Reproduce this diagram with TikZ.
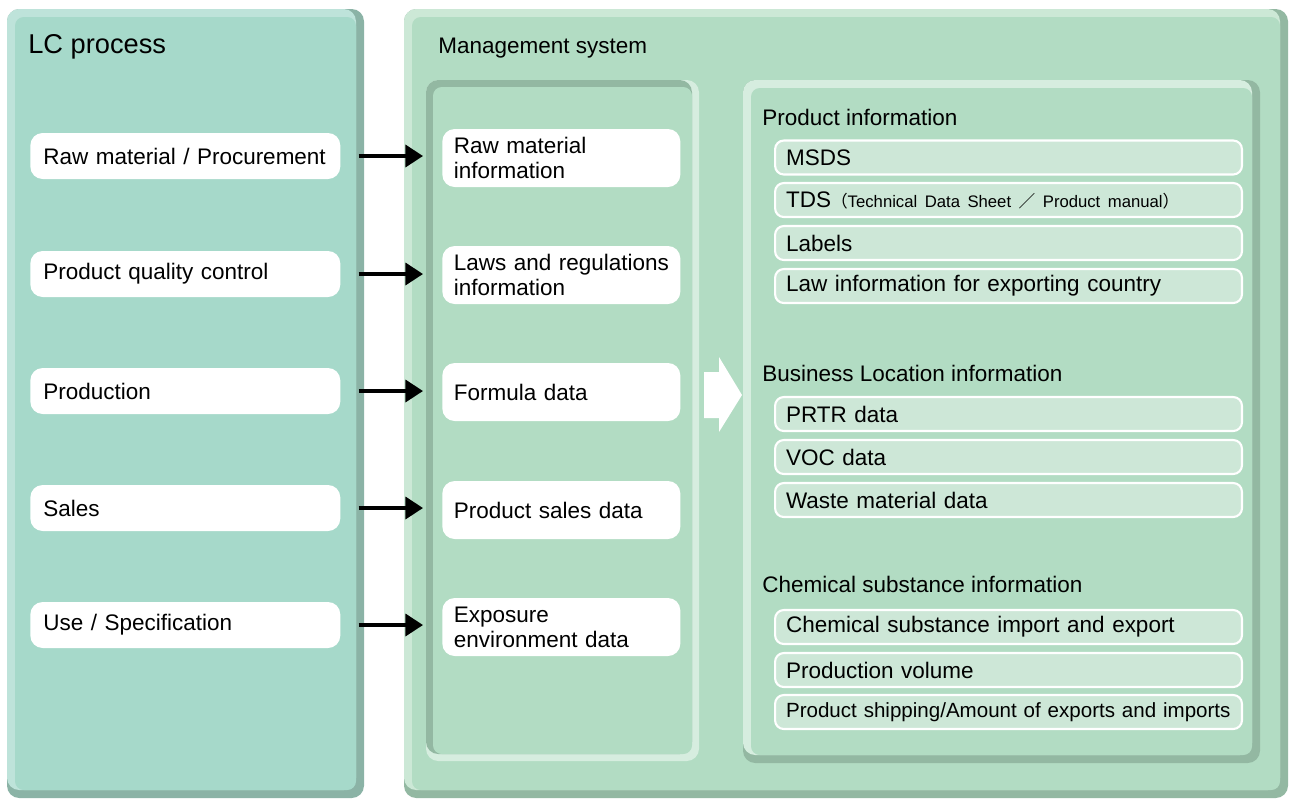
\documentclass[tikz,border=0pt]{standalone}
\usepackage{fontspec}
\setmainfont{Liberation Sans}
\newfontfamily\cjk{Noto Sans CJK JP}
\usepackage{tikz}
\usetikzlibrary{arrows.meta, positioning, calc}
\definecolor{lcmain}{RGB}{166,217,202}
\definecolor{lclight}{RGB}{190,227,218}
\definecolor{lcdark}{RGB}{139,179,166}
\definecolor{msmain}{RGB}{178,220,195}
\definecolor{mslight}{RGB}{204,232,214}
\definecolor{msdark}{RGB}{147,184,162}
\definecolor{inlight}{RGB}{214,237,223}
\definecolor{itemgreen}{RGB}{205,231,215}
\newcommand{\itemfont}{\fontsize{12.8}{14.2}\selectfont}
\tikzset{>=stealth,
	lcbox/.style={fill=white, rounded corners=7pt, anchor=west, minimum height=0.92cm, text width=5.68cm, inner xsep=0.26cm, inner ysep=0pt, align=left, font=\itemfont},
	databox/.style={fill=white, rounded corners=7pt, anchor=west, minimum height=1.16cm, text width=4.3cm, inner xsep=0.23cm, inner ysep=0pt, align=left, font=\itemfont},
	infobox/.style={fill=itemgreen, draw=white, line width=1.2pt, rounded corners=5pt, anchor=west, minimum height=0.68cm, text width=8.9cm, inner xsep=0.22cm, inner ysep=0pt, align=left, font=\itemfont},
	infohead/.style={anchor=west, inner sep=0pt, font=\itemfont},
	flow/.style={line width=2pt, -{Triangle[length=10pt,width=12.5pt]}, shorten <=0.36cm, shorten >=0.38cm}}

\begin{document}
\begin{tikzpicture}[x=0.02cm, y=-0.02cm]
	\useasboundingbox (0,0) rectangle (1293,799);

	% LC process panel
	\fill [lcdark, rounded corners=7pt] (7,9) rectangle (364,798);
	\fill [lclight, rounded corners=7pt] (7,9) rectangle (356,790);
	\fill [lcmain, rounded corners=5pt] (15,17) rectangle (356,790);
	\node [anchor=west, inner sep=0pt, font=\fontsize{15.5}{18}\selectfont] (lctitle) at (28,47) {LC process};

	% management system panel
	\fill [msdark, rounded corners=7pt] (404,9) rectangle (1288,798);
	\fill [mslight, rounded corners=7pt] (404,9) rectangle (1280,790);
	\fill [msmain, rounded corners=5pt] (412,17) rectangle (1280,790);
	\node [anchor=west, inner sep=0pt, font=\fontsize{12.8}{14}\selectfont] (mstitle) at (438,48) {Management system};

	% inner panels
	\fill [inlight, rounded corners=7pt] (426,80) rectangle (699,761);
	\fill [msdark, rounded corners=7pt] (426,80) rectangle (692,754);
	\fill [msmain, rounded corners=5pt] (433,87) rectangle (692,754);

	\fill [msdark, rounded corners=7pt] (743,80) rectangle (1260,763);
	\fill [inlight, rounded corners=7pt] (743,80) rectangle (1252,755);
	\fill [msmain, rounded corners=5pt] (751,88) rectangle (1252,755);

	% LC steps
	\node [lcbox] (lcraw) at (30,156) {Raw material / Procurement};
	\node [lcbox] (lcqual) at (30,274) {Product quality control};
	\node [lcbox] (lcprod) at (30,391) {Production};
	\node [lcbox] (lcsales) at (30,508) {Sales};
	\node [lcbox] (lcuse) at (30,625) {Use / Specification};

	% data held by the system
	\node [databox] (msraw) at (442,158) {Raw material\\information};
	\node [databox] (mslaw) at (442,275) {\mbox{Laws and regulations}\\information};
	\node [databox] (msform) at (442,392) {Formula data};
	\node [databox] (mssales) at (442,510) {Product sales data};
	\node [databox] (msexp) at (442,627) {Exposure\\environment data};

	\draw [flow] (lcraw.east) -- (lcraw.east -| msraw.west);
	\draw [flow] (lcqual.east) -- (lcqual.east -| mslaw.west);
	\draw [flow] (lcprod.east) -- (lcprod.east -| msform.west);
	\draw [flow] (lcsales.east) -- (lcsales.east -| mssales.west);
	\draw [flow] (lcuse.east) -- (lcuse.east -| msexp.west);

	% big arrow
	\fill [white] (704,372) -- (719,372) -- (719,357) -- (742,395) -- (719,432) -- (719,418) -- (704,418) -- cycle;

	% product information
	\node [infohead] (prodhead) at (762,117) {Product information};
	\node [infobox] (msds) at (774,157.5) {MSDS};
	\node [infobox] (tds) at (774,200) {TDS{\fontsize{9.5}{11}\selectfont\cjk （}{\fontsize{9.5}{11}\selectfont Technical Data Sheet {\cjk ／} Product manual{\cjk ）}}};
	\node [infobox] (labels) at (774,243) {Labels};
	\node [infobox] (lawexp) at (774,286) {Law information for exporting country};

	% business location information
	\node [infohead] (lochead) at (762,373) {Business Location information};
	\node [infobox] (prtr) at (774,414) {PRTR data};
	\node [infobox] (voc) at (774,457) {VOC data};
	\node [infobox] (waste) at (774,500) {Waste material data};

	% chemical substance information
	\node [infohead] (chemhead) at (762,584) {Chemical substance information};
	\node [infobox] (chemio) at (774,627) {Chemical substance import and export};
	\node [infobox] (volume) at (774,670) {Production volume};
	\node [infobox, font=\fontsize{11.7}{14}\selectfont] (shipping) at (774,712) {Product shipping/Amount of exports and imports};

\end{tikzpicture}
\end{document}
